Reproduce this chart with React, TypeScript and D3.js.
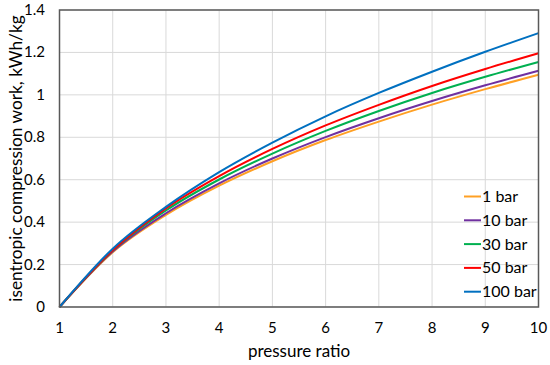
import React from "react";
import * as d3 from "d3";

const ratios = [1, 2, 3, 4, 5, 6, 7, 8, 9, 10];
const bar1 = [0, 0.258, 0.434, 0.572, 0.687, 0.787, 0.874, 0.954, 1.027, 1.095];
const bar10 = [0, 0.262, 0.442, 0.583, 0.7, 0.801, 0.89, 0.971, 1.045, 1.114];
const bar30 = [0, 0.266, 0.455, 0.601, 0.723, 0.83, 0.924, 1.009, 1.085, 1.155];
const bar50 = [0, 0.268, 0.465, 0.617, 0.745, 0.856, 0.953, 1.042, 1.122, 1.196];
const bar100 = [0, 0.275, 0.472, 0.636, 0.775, 0.899, 1.009, 1.109, 1.203, 1.291];

const seriesNames = ["1 bar", "10 bar", "30 bar", "50 bar", "100 bar"];
const seriesValues = [bar1, bar10, bar30, bar50, bar100];
const seriesColors = ["#FFA024", "#7030A0", "#00B050", "#FF0000", "#0070C0"];

const xTicks = [1, 2, 3, 4, 5, 6, 7, 8, 9, 10];
const yTicks = [0, 0.2, 0.4, 0.6, 0.8, 1, 1.2, 1.4];

const W = 550, H = 365;
const L = 59.5, R = 538.5, T = 10, B = 307;
const FONT = "Lato, 'Open Sans', sans-serif";

export default function App() {
  const x = d3.scaleLinear().domain([1, 10]).range([L, R]);
  const y = d3.scaleLinear().domain([0, 1.4]).range([B, T]);
  const line = d3
    .line<number>()
    .x((_, i) => x(ratios[i]))
    .y((d) => y(d))
    .curve(d3.curveCatmullRom.alpha(0));

  const legX = 464, legY0 = 196.5, legDy = 23.8;

  return (
    <svg width={W} height={H} style={{ position: "absolute", left: 0, top: 0, background: "#fff" }} fontFamily={FONT}>
      <rect x={0} y={0} width={W} height={H} fill="#fff" />
      {xTicks.map((t) => (
        <line key={"gx" + t} x1={x(t)} x2={x(t)} y1={T} y2={B} stroke="#d9d9d9" strokeWidth={1} />
      ))}
      {yTicks.map((t) => (
        <line key={"gy" + t} x1={L} x2={R} y1={y(t)} y2={y(t)} stroke="#d9d9d9" strokeWidth={1} />
      ))}
      {seriesValues.map((vals, i) => (
        <path key={seriesNames[i]} d={line(vals) || ""} fill="none" stroke={seriesColors[i]} strokeWidth={2} />
      ))}
      <rect x={L} y={T} width={R - L} height={B - T} fill="none" stroke="#595959" strokeWidth={1.5} />
      {yTicks.map((t) => (
        <text key={"ty" + t} x={45} y={y(t) + 5} textAnchor="end" fontSize={15} fill="#000">
          {d3.format("~g")(t)}
        </text>
      ))}
      {xTicks.map((t) => (
        <text key={"tx" + t} x={x(t)} y={333} textAnchor="middle" fontSize={15} fill="#000">
          {t}
        </text>
      ))}
      <text x={(L + R) / 2} y={357} textAnchor="middle" fontSize={17} fill="#000">
        pressure ratio
      </text>
      <text
        transform={`translate(22,${(T + B) / 2}) rotate(-90)`}
        textAnchor="middle"
        fontSize={17.3}
        fill="#000"
      >
        isentropic compression work, kWh/kg
      </text>
      {seriesNames.map((n, i) => (
        <g key={"leg" + n}>
          <line x1={legX} x2={legX + 17} y1={legY0 + i * legDy} y2={legY0 + i * legDy} stroke={seriesColors[i]} strokeWidth={2} />
          <text x={legX + 18} y={legY0 + i * legDy + 5.5} fontSize={16} fill="#000">
            {n}
          </text>
        </g>
      ))}
    </svg>
  );
}
